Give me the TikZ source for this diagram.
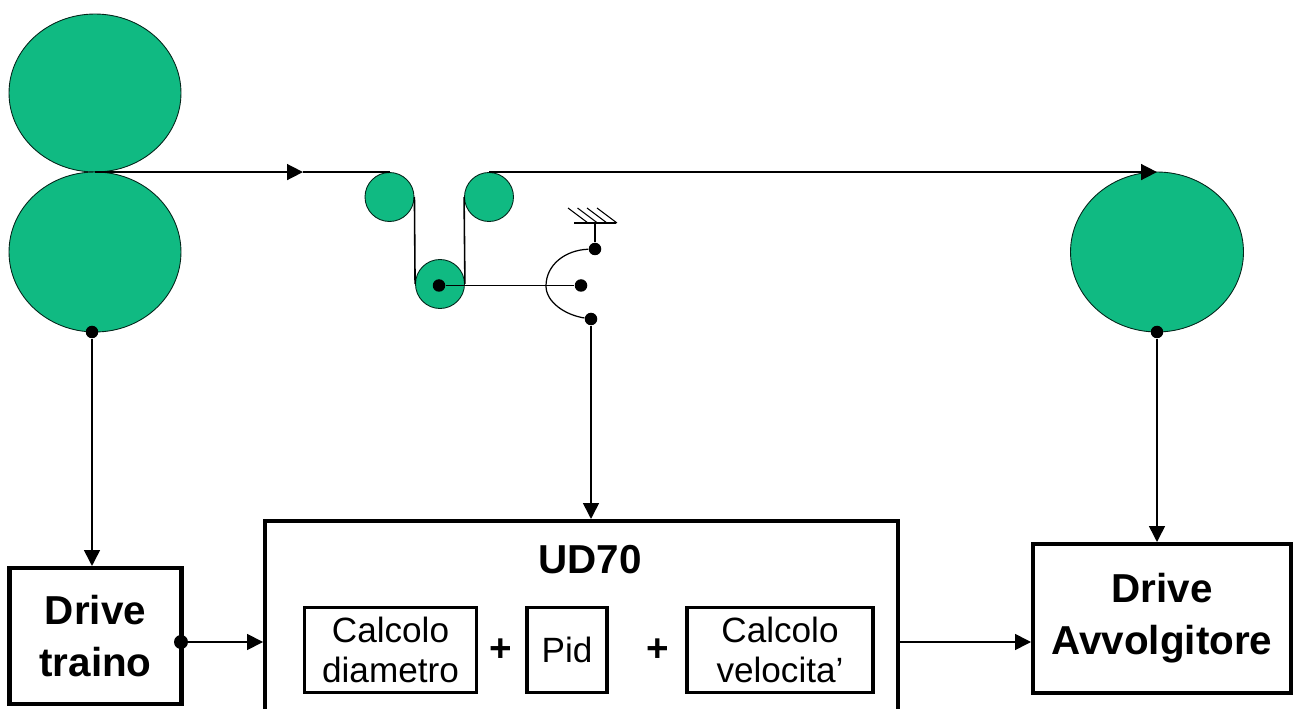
\documentclass[tikz,border=0pt]{standalone}
\usepackage{fontspec}
\setmainfont{Liberation Sans}
\usepackage{tikz}
\usetikzlibrary{arrows.meta,positioning,shapes.geometric}
\definecolor{rollgreen}{RGB}{16,186,130}

\begin{document}
\begin{tikzpicture}[x=0.02cm,y=-0.02cm,
  bigroll/.style={draw=black!80!rollgreen,fill=rollgreen,ellipse,inner sep=0pt,line width=0.5pt},
  smallroll/.style={draw=black!80!rollgreen,fill=rollgreen,circle,inner sep=0pt,line width=0.5pt,minimum size=0.98cm},
  dot/.style={fill=black,circle,inner sep=0pt,minimum size=0.25cm},
  drivebox/.style={draw,line width=2.3pt,align=center,inner sep=0pt,font=\fontsize{23}{29.5}\selectfont\bfseries},
  calcbox/.style={draw,line width=1.9pt,align=center,inner sep=0pt,font=\fontsize{20}{23}\selectfont},
  ar/.style={-{Triangle[length=9pt,width=9pt]},line width=0.9pt},
  ln/.style={line width=0.9pt}]
\clip (0,0) rectangle (1299,709);
\node[bigroll,minimum width=3.44cm,minimum height=3.16cm] (top) at (95,93) {};
\node[bigroll,minimum width=3.44cm,minimum height=3.2cm] (bottom) at (95,252) {};
\node[bigroll,minimum width=3.46cm,minimum height=3.2cm] (winder) at (1157,252) {};
\node[smallroll] (r1) at (389.5,197) {};
\node[smallroll] (r2) at (489,197) {};
\node[smallroll] (dancer) at (440,284) {};
\node[dot] (dpivot) at (439,285.5) {};
\node[dot] (dtop) at (595,249) {};
\node[dot] (dmid) at (581,285.5) {};
\node[dot] (dbot) at (591,319) {};
\node[dot] (dbottom) at (92,332) {};
\node[dot] (dwinder) at (1157,332) {};
\node[drivebox,minimum width=3.44cm,minimum height=2.72cm] (traino) at (95.5,636) {Drive\\traino};
\node[draw,line width=2.3pt,minimum width=12.66cm,minimum height=4.4cm,inner sep=0pt] (ud70) at (581.5,631) {};
\node[font=\fontsize{23}{28}\selectfont\bfseries] (ud70t) at (590,560) {UD70};
\node[calcbox,minimum width=3.44cm,minimum height=1.7cm] (diam) at (390.5,650) {Calcolo\\diametro};
\node[calcbox,minimum width=1.6cm,minimum height=1.7cm] (pid) at (567,650) {Pid};
\node[calcbox,minimum width=3.72cm,minimum height=1.7cm] (vel) at (780,650) {Calcolo\\velocita'};
\node[font=\fontsize{22}{25}\selectfont\bfseries] (p1) at (501,650) {+};
\node[font=\fontsize{22}{25}\selectfont\bfseries] (p2) at (658,650) {+};
\node[drivebox,minimum width=5.16cm,minimum height=2.98cm] (avv) at (1162,618.5) {Drive\\Avvolgitore};
\node[dot,minimum size=0.28cm] (dtraino) at (181,642) {};
\coordinate (nip) at (bottom.north |- r1.north);
\coordinate (webarrow) at (303,0 |- r1.north);
\coordinate (g1) at (574,223);
\coordinate (g2) at (616,223);
\coordinate (g0) at (595,223);
\coordinate (arcmid) at (546,286);
\draw[ar] (nip) -- (webarrow);
\draw[ln] (webarrow) -- (r1.north);
\draw[ln] (r1.east) -- (dancer.west);
\draw[ln] (dancer.east) -- (r2.west);
\draw[ar] (r2.north) -- (r2.north -| winder.north);
\draw[ln] (dpivot) -- (dmid);
\draw[ln] (g1) -- (g2);
\draw[ln] (g0) -- (dtop);
\foreach \x in {568,577.5,587,597}
  \draw[line width=0.6pt] (\x,208) -- (\x+20,223);
\draw[line width=0.7pt] (dtop) .. controls (565,250) and (546,265) .. (arcmid) .. controls (546,302) and (565,315) .. (dbot);
\draw[ar] (dbottom) -- (traino.north -| dbottom);
\draw[ar] (dwinder) -- (avv.north -| dwinder);
\draw[ar] (dbot) -- (ud70.north -| dbot);
\draw[ar] (dtraino) -- (dtraino -| ud70.west);
\draw[ar] (dtraino -| ud70.east) -- (dtraino -| avv.west);
\end{tikzpicture}
\end{document}
